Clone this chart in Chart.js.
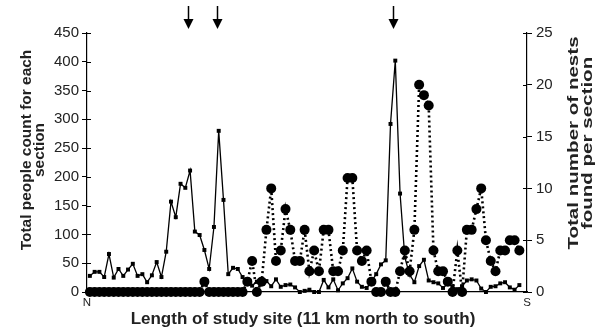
<!DOCTYPE html>
<html>
<head>
<meta charset="utf-8">
<script src="https://cdn.jsdelivr.net/npm/chart.js@4.4.1/dist/chart.umd.min.js"></script>
<style>
  html, body { margin: 0; padding: 0; background: #fff; }
  #wrap { width: 601px; height: 333px; }
</style>
</head>
<body>
<div id="wrap"><canvas id="chart" width="601" height="333"></canvas></div>
<script>
// one value per section, north (left) to south (right)
const peopleCount = [
  28, 35, 35, 26, 66, 25, 40, 28, 39, 49, 28, 31, 17, 29, 52, 26, 70, 157, 130, 188,
  181, 211, 105, 99, 73, 40, 113, 280, 160, 31, 42, 40, 26, 17, 11, 18, 22, 19, 10, 22,
  9, 12, 13, 8, 0, 2, 4, 0, 0, 21, 8, 22, 3, 15, 24, 41, 18, 9, 7, 18,
  31, 48, 55, 292, 402, 171, 60, 30, 17, 45, 56, 20, 17, 15, 7, 14, 9, 5, 10, 20,
  22, 20, 6, 0, 9, 10, 15, 17, 8, 4, 12
];
const nestCount = [
  0, 0, 0, 0, 0, 0, 0, 0, 0, 0, 0, 0, 0, 0, 0, 0, 0, 0, 0, 0,
  0, 0, 0, 0, 1, 0, 0, 0, 0, 0, 0, 0, 0, 1, 3, 0, 1, 6, 10, 3,
  4, 8, 6, 3, 3, 6, 2, 4, 2, 6, 6, 2, 2, 4, 11, 11, 4, 3, 4, 1,
  0, 0, 1, 0, 0, 2, 4, 2, 6, 20, 19, 18, 4, 2, 2, 1, 0, 4, 0, 6,
  6, 8, 10, 5, 3, 2, 4, 4, 5, 5, 4
];
const endLabels = ['N', 'S'];
const arrowSections = [21, 27, 64];

const xTitle = 'Length of study site (11 km north to south)';
const leftTitle = ['Total people count for each', 'section'];
const rightTitle = ['Total number of nests', 'found per section'];

const FONT = "'Liberation Sans', Arial, Helvetica, sans-serif";
Chart.defaults.font.family = FONT;
Chart.defaults.color = '#222';

// side titles read bottom to top; stretch > 1 lengthens the text along its line
function drawUpTitle(ctx, lines, cx, cy, gap, size, stretch) {
    ctx.save();
    ctx.fillStyle = '#222';
    ctx.font = 'bold ' + size + 'px ' + FONT;
    ctx.textAlign = 'center';
    ctx.textBaseline = 'middle';
    ctx.translate(cx, cy);
    ctx.rotate(-Math.PI / 2);
    ctx.scale(stretch, 1);
    lines.forEach((line, i) => ctx.fillText(line, 0, i * gap));
    ctx.restore();
}

const extras = {
    id: 'extras',
    afterDraw(chart) {
        const { ctx, chartArea, scales: { x, y, y2 } } = chart;
        ctx.save();
        ctx.strokeStyle = '#000';
        ctx.fillStyle = '#000';

        // arrows over the people peaks
        arrowSections.forEach(s => {
            const px = Math.round(x.getPixelForValue(s)) - 1.5;
            ctx.lineWidth = 1.5;
            ctx.beginPath();
            ctx.moveTo(px, 6);
            ctx.lineTo(px, 22);
            ctx.stroke();
            ctx.beginPath();
            ctx.moveTo(px - 5, 19);
            ctx.lineTo(px + 5, 19);
            ctx.lineTo(px, 29);
            ctx.closePath();
            ctx.fill();
        });

        // tick marks reach a little into the plot too
        ctx.lineWidth = 1;
        y.ticks.forEach(t => {
            const py = Math.round(y.getPixelForValue(t.value)) + 0.5;
            ctx.beginPath();
            ctx.moveTo(chartArea.left, py);
            ctx.lineTo(chartArea.left + 4, py);
            ctx.stroke();
        });
        y2.ticks.forEach(t => {
            const py = Math.round(y2.getPixelForValue(t.value)) + 0.5;
            ctx.beginPath();
            ctx.moveTo(chartArea.right - 4, py);
            ctx.lineTo(chartArea.right, py);
            ctx.stroke();
        });

        // x title
        ctx.fillStyle = '#222';
        ctx.font = 'bold 17px ' + FONT;
        ctx.textAlign = 'center';
        ctx.textBaseline = 'middle';
        ctx.fillText(xTitle, 303, 319);
        ctx.restore();

        drawUpTitle(ctx, leftTitle, 26.5, 150, 13.5, 15, 1.03);
        drawUpTitle(ctx, rightTitle, 573.5, 143, 14.5, 15, 1.37);
    }
};

new Chart(document.getElementById('chart'), {
    type: 'line',
    data: {
        datasets: [
            {
                label: 'Nests',
                data: nestCount.map((v, i) => ({ x: i, y: v })),
                yAxisID: 'y2',
                order: 0,
                clip: false,
                borderColor: '#000',
                backgroundColor: '#000',
                borderWidth: 2.6,
                borderDash: [2, 3],
                pointStyle: 'circle',
                pointRadius: 5,
                pointBorderWidth: 0,
                tension: 0
            },
            {
                label: 'People',
                data: peopleCount.map((v, i) => ({ x: i, y: v })),
                yAxisID: 'y',
                order: 1,
                clip: false,
                borderColor: '#000',
                backgroundColor: '#000',
                borderWidth: 1.3,
                pointStyle: 'rect',
                pointRadius: 2.8,
                pointBorderWidth: 0,
                tension: 0
            }
        ]
    },
    options: {
        responsive: false,
        animation: false,
        layout: { padding: { top: 33, right: 0, bottom: 0, left: 0 } },
        plugins: { legend: { display: false }, tooltip: { enabled: false } },
        scales: {
            x: {
                type: 'linear',
                min: -0.6,
                max: 91.6,
                grid: { display: false, drawTicks: false },
                border: { color: '#000', width: 1.2 },
                afterBuildTicks: s => { s.ticks = [{ value: s.min }, { value: s.max }]; },
                ticks: {
                    autoSkip: false,
                    maxRotation: 0,
                    padding: 4,
                    font: { size: 11.5 },
                    callback: (v, i) => endLabels[i]
                },
                afterFit: s => { s.height = 41; }
            },
            y: {
                position: 'left',
                min: 0,
                max: 450,
                ticks: { stepSize: 50, padding: 3, font: { size: 15 } },
                grid: { drawOnChartArea: false, tickLength: 5, color: '#000' },
                border: { color: '#000', width: 1.2 },
                afterFit: s => { s.width = 87; }
            },
            y2: {
                position: 'right',
                min: 0,
                max: 25,
                ticks: { stepSize: 5, padding: 4, font: { size: 15 } },
                grid: { drawOnChartArea: false, tickLength: 5, color: '#000' },
                border: { color: '#000', width: 1.2 },
                afterFit: s => { s.width = 74; }
            }
        }
    },
    plugins: [extras]
});
</script>
</body>
</html>
